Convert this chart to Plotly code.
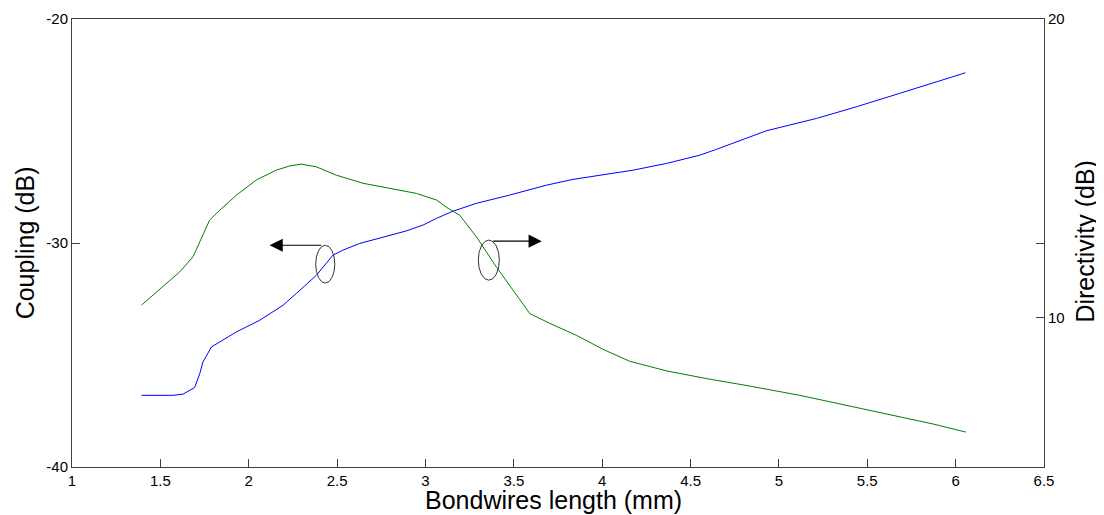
import plotly.graph_objects as go

# Coupling (left axis, blue)
coupling_x = [1.393, 1.571, 1.628, 1.694, 1.723, 1.741, 1.789, 1.854, 1.930, 2.062,
              2.194, 2.270, 2.383, 2.477, 2.533, 2.628, 2.760, 2.892, 2.986, 3.062,
              3.156, 3.288, 3.477, 3.684, 3.835, 3.986, 4.174, 4.363, 4.552, 4.646,
              4.929, 5.212, 5.438, 5.683, 5.909, 6.056]
coupling_db = [-36.80, -36.80, -36.75, -36.45, -35.83, -35.31, -34.64, -34.34, -33.97, -33.45,
               -32.78, -32.25, -31.44, -30.54, -30.32, -30.02, -29.73, -29.46, -29.20, -28.90,
               -28.58, -28.23, -27.86, -27.42, -27.16, -26.97, -26.75, -26.45, -26.08, -25.82,
               -24.99, -24.44, -23.92, -23.32, -22.76, -22.40]

# Directivity (right axis, green)
directivity_x = [1.393, 1.515, 1.609, 1.685, 1.732, 1.779, 1.836, 1.930, 2.043, 2.156,
                 2.232, 2.298, 2.383, 2.496, 2.647, 2.798, 2.949, 3.062, 3.128, 3.194,
                 3.288, 3.401, 3.495, 3.590, 3.703, 3.854, 4.005, 4.156, 4.363, 4.590,
                 4.835, 5.118, 5.401, 5.684, 5.872, 6.057]
directivity_db = [10.42, 11.03, 11.53, 12.04, 12.65, 13.27, 13.60, 14.10, 14.61, 14.94,
                  15.08, 15.14, 15.05, 14.77, 14.50, 14.33, 14.16, 13.94, 13.66, 13.43,
                  12.71, 11.70, 10.92, 10.14, 9.81, 9.41, 8.94, 8.54, 8.22, 7.96,
                  7.71, 7.40, 7.04, 6.68, 6.44, 6.17]

x_ticks = [1, 1.5, 2, 2.5, 3, 3.5, 4, 4.5, 5, 5.5, 6, 6.5]
x_tick_labels = ["1", "1.5", "2", "2.5", "3", "3.5", "4", "4.5", "5", "5.5", "6", "6.5"]
left_ticks = [-40, -30, -20]
left_tick_labels = ["-40", "-30", "-20"]
right_ticks = [10, 20]
right_tick_labels = ["10", "20"]

FONT = "Liberation Sans, Arial, sans-serif"
AXC = "#404040"

fig = go.Figure()
fig.add_trace(go.Scatter(x=coupling_x, y=coupling_db, mode="lines",
                         line=dict(color="#0000ff", width=1), name="Coupling",
                         yaxis="y"))
fig.add_trace(go.Scatter(x=directivity_x, y=directivity_db, mode="lines",
                         line=dict(color="#008000", width=1), name="Directivity",
                         yaxis="y2"))

# ellipses (left-axis data coords) and arrows
ellipses = [(2.379, 2.487, -31.79, -30.10), (3.299, 3.418, -31.66, -29.87)]
for x0, x1, y0, y1 in ellipses:
    fig.add_shape(type="circle", xref="x", yref="y", x0=x0, x1=x1, y0=y0, y1=y1,
                  line=dict(color="#333333", width=1))

arrows = [(2.418, 2.118, -30.10), (3.375, 3.658, -29.92)]
for tail, head, yv in arrows:
    fig.add_annotation(x=head, y=yv, ax=tail, ay=yv, xref="x", yref="y",
                       axref="x", ayref="y", text="", showarrow=True,
                       arrowhead=2, arrowsize=2.2, arrowwidth=1.2, arrowcolor="black")

# axis titles as paper annotations for exact placement
fig.add_annotation(text="Coupling (dB)", xref="paper", yref="paper", x=-0.048, y=0.5,
                   textangle=-90, showarrow=False, font=dict(size=25),
                   xanchor="center", yanchor="middle")
fig.add_annotation(text="Directivity (dB)", xref="paper", yref="paper", x=1.042, y=0.505,
                   textangle=-90, showarrow=False, font=dict(size=25),
                   xanchor="center", yanchor="middle")
fig.add_annotation(text="Bondwires length (mm)", xref="paper", yref="paper", x=0.495, y=-0.073,
                   showarrow=False, font=dict(size=25), xanchor="center", yanchor="middle")

# page body has an 8px margin: size the figure so the plot lands where the reference has it
fig.update_layout(
    width=1096, height=507,
    margin=dict(l=64, r=60, t=11, b=48, autoexpand=False),
    paper_bgcolor="white", plot_bgcolor="white",
    showlegend=False,
    font=dict(family=FONT, color="black"),
    xaxis=dict(range=[1, 6.5], tickvals=x_ticks, ticktext=x_tick_labels,
               ticks="inside", ticklen=8, tickcolor=AXC, showline=True, linecolor=AXC,
               linewidth=1, mirror=True, showgrid=False, zeroline=False,
               tickfont=dict(size=15), automargin=False),
    yaxis=dict(range=[-40, -20], tickvals=left_ticks, ticktext=left_tick_labels,
               ticks="inside", ticklen=8,
               tickcolor=AXC, showline=True, linecolor=AXC, linewidth=1,
               mirror="ticks", showgrid=False, zeroline=False, tickfont=dict(size=15),
               automargin=False),
    yaxis2=dict(range=[5, 20], tickvals=right_ticks, ticktext=right_tick_labels,
                overlaying="y", side="right",
                ticks="inside", ticklen=8, tickcolor=AXC, showline=True, linecolor=AXC,
                linewidth=1, showgrid=False, zeroline=False, tickfont=dict(size=15),
                automargin=False),
)

fig.write_html("out.html")
